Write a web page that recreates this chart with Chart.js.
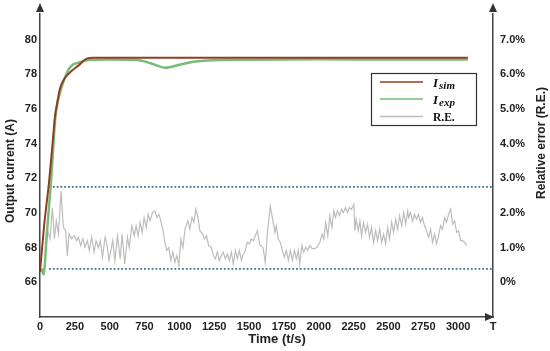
<!DOCTYPE html>
<html lang="en">
<head>
    <meta charset="UTF-8">
    <title>Output current and relative error</title>
    <script src="https://cdn.jsdelivr.net/npm/chart.js"></script>
    <style>
        body {
            margin: 0;
            background-color: #fff;
        }
        #wrap {
            width: 550px;
            height: 351px;
        }
    </style>
</head>
<body>
    <div id="wrap">
        <canvas id="currentChart" width="550" height="351"></canvas>
    </div>

    <script>
        // simulated current (A)
        const simTime = [0, 30, 65, 90, 108, 120, 144, 180, 228, 275, 335, 380, 1000, 2000, 3070];
        const simCurrent = [66.6, 69.3, 71.8, 74.0, 75.6, 76.2, 77.2, 77.8, 78.2, 78.5, 78.9, 78.95, 78.95, 78.95, 78.95];

        // experimental current (A)
        const expTime = [12, 25, 50, 79, 110, 130, 165, 216, 287, 350, 500, 700, 800, 900, 1000, 1100, 1200, 1500, 2000, 2500, 3070];
        const expCurrent = [66.8, 66.45, 68.9, 71.8, 75.5, 76.5, 77.5, 78.4, 78.7, 78.82, 78.85, 78.82, 78.62, 78.38, 78.55, 78.72, 78.8, 78.84, 78.86, 78.85, 78.85];

        // relative error (%)
        const reTime = [36, 55, 72, 89, 103, 117, 132, 151, 168, 184, 196, 208, 227, 247, 263, 275, 292, 307, 323, 340,
            354, 371, 388, 402, 419, 433, 448, 467, 480, 495, 522, 537, 556, 575, 589, 608, 627, 640, 659, 676,
            690, 704, 718, 733, 747, 762, 776, 790, 807, 824, 838, 853, 867, 881, 898, 910, 924, 939, 953, 968,
            982, 996, 1011, 1025, 1041, 1061, 1075, 1090, 1104, 1118, 1133, 1147, 1166, 1181, 1195, 1210, 1229, 1243, 1258, 1272,
            1286, 1301, 1315, 1330, 1344, 1358, 1373, 1387, 1402, 1416, 1430, 1445, 1459, 1473, 1487, 1502, 1516, 1531, 1545, 1559,
            1577, 1600, 1616, 1633, 1652, 1671, 1686, 1695, 1710, 1724, 1739, 1753, 1767, 1782, 1796, 1810, 1825, 1839, 1853, 1863,
            1878, 1892, 1906, 1921, 1935, 1952, 1969, 1988, 2007, 2024, 2036, 2050, 2065, 2079, 2094, 2108, 2120, 2134, 2148, 2163,
            2177, 2192, 2206, 2220, 2235, 2252, 2259, 2268, 2283, 2295, 2307, 2321, 2336, 2350, 2364, 2379, 2393, 2408, 2422, 2437,
            2451, 2465, 2480, 2494, 2508, 2523, 2537, 2552, 2566, 2580, 2595, 2609, 2624, 2638, 2645, 2658, 2672, 2687, 2701, 2715,
            2730, 2744, 2759, 2773, 2788, 2802, 2816, 2831, 2845, 2859, 2874, 2888, 2903, 2917, 2931, 2946, 2960, 2974, 2989, 3003,
            3018, 3032, 3046, 3060];
        const reValue = [1.11, 1.49, 1.26, 2.15, 1.26, 1.77, 1.39, 2.63, 1.58, 1.49, 0.77, 1.40, 1.26, 1.34, 1.20, 1.30, 1.06, 1.26, 1.01, 1.20,
            0.92, 1.30, 0.87, 1.20, 1.00, 1.20, 0.72, 1.30, 1.11, 0.63, 1.20, 0.63, 1.34, 0.68, 1.39, 0.53, 1.30, 1.00, 1.63, 1.34,
            1.63, 1.34, 1.73, 1.44, 1.87, 1.58, 1.96, 1.77, 2.01, 2.06, 1.87, 1.96, 1.77, 1.53, 1.11, 0.92, 1.00, 0.63, 0.87, 0.58,
            0.77, 0.49, 1.25, 1.00, 1.55, 1.77, 1.53, 1.87, 1.73, 2.11, 1.87, 1.49, 1.39, 1.25, 1.34, 1.06, 1.01, 0.77, 0.68, 0.87,
            0.63, 0.77, 0.87, 0.68, 0.82, 0.63, 0.87, 0.53, 0.92, 0.68, 0.92, 0.63, 0.82, 0.92, 1.15, 1.11, 1.25, 1.20, 1.34, 1.49,
            1.08, 1.00, 0.58, 1.49, 2.20, 1.77, 1.44, 1.63, 1.25, 1.15, 0.92, 0.72, 0.92, 0.63, 0.92, 0.63, 0.92, 0.68, 0.92, 0.53,
            1.06, 0.87, 1.01, 0.92, 1.06, 0.97, 0.97, 1.01, 1.15, 1.39, 1.25, 1.73, 1.34, 1.92, 1.58, 2.06, 1.87, 2.06, 1.92, 2.11,
            2.01, 2.16, 2.01, 2.16, 2.11, 2.25, 1.49, 1.82, 1.49, 1.77, 1.34, 1.73, 1.44, 1.68, 1.30, 1.58, 1.15, 1.49, 1.20, 1.53,
            1.15, 1.39, 1.11, 1.58, 1.25, 1.73, 1.44, 1.82, 1.53, 1.92, 1.63, 2.01, 1.68, 2.06, 1.87, 2.01, 1.77, 1.96, 1.82, 1.96,
            1.73, 1.87, 1.63, 1.49, 1.30, 1.53, 1.15, 1.39, 1.11, 1.34, 1.63, 1.53, 1.87, 1.73, 1.96, 2.11, 1.68, 1.77, 1.44, 1.49,
            1.20, 1.20, 1.15, 1.06];

        // dotted error bounds (%)
        const boundTime = [65, 3250];
        const boundUpper = 2.75;
        const boundLower = 0.39;

        const xTicks = [0, 250, 500, 750, 1000, 1250, 1500, 1750, 2000, 2250, 2500, 2750, 3000, 3250];
        const legendNames = [['I', 'sim'], ['I', 'exp'], ['R.E.', '']];

        const textColor = '#222';
        const sansBold = 'bold 11px "Liberation Sans", Arial, sans-serif';
        const simColor = '#8e3f22';
        const expColor = '#79bb79';
        const reColor = '#bdbdbd';
        const boundColor = '#3d7290';

        const toPoints = (xs, ys) => xs.map((x, i) => ({ x: x, y: ys[i] }));

        const decorPlugin = {
            id: 'decor',
            afterDraw(chart) {
                const ctx = chart.ctx;
                const area = chart.chartArea;
                ctx.save();

                // axis arrows
                ctx.fillStyle = '#333';
                [area.left, area.right].forEach(x => {
                    ctx.beginPath();
                    ctx.moveTo(x, 3);
                    ctx.lineTo(x - 4, 12);
                    ctx.lineTo(x + 4, 12);
                    ctx.closePath();
                    ctx.fill();
                });
                ctx.beginPath();
                ctx.moveTo(area.right + 1, area.bottom);
                ctx.lineTo(area.right - 8, area.bottom - 4);
                ctx.lineTo(area.right - 8, area.bottom + 4);
                ctx.closePath();
                ctx.fill();

                // axis titles
                ctx.fillStyle = textColor;
                ctx.textAlign = 'center';
                ctx.textBaseline = 'middle';
                ctx.font = 'bold 13px "Liberation Sans", Arial, sans-serif';
                ctx.fillText('Time (t/s)', 277, 339);

                ctx.font = 'bold 12px "Liberation Sans", Arial, sans-serif';
                ctx.save();
                ctx.translate(11, 171);
                ctx.rotate(-Math.PI / 2);
                ctx.fillText('Output current (A)', 0, 0);
                ctx.restore();

                ctx.save();
                ctx.translate(542, 143);
                ctx.rotate(-Math.PI / 2);
                ctx.fillText('Relative error (R.E.)', 0, 0);
                ctx.restore();

                // legend
                ctx.fillStyle = '#fff';
                ctx.fillRect(371.5, 73.5, 105, 52);
                ctx.strokeStyle = '#333';
                ctx.lineWidth = 1.2;
                ctx.strokeRect(371.5, 73.5, 105, 52);

                const rows = [82, 99, 116.5];
                const colors = [simColor, expColor, reColor];
                ctx.textAlign = 'left';
                ctx.textBaseline = 'alphabetic';
                rows.forEach((y, i) => {
                    ctx.strokeStyle = colors[i];
                    ctx.lineWidth = 1.6;
                    ctx.beginPath();
                    ctx.moveTo(380, y);
                    ctx.lineTo(423, y);
                    ctx.stroke();

                    const [main, sub] = legendNames[i];
                    ctx.fillStyle = '#111';
                    if (sub) {
                        ctx.font = 'bold italic 13px "Liberation Serif", serif';
                        ctx.fillText(main, 433, y + 5);
                        const w = ctx.measureText(main).width;
                        ctx.font = 'bold italic 11px "Liberation Serif", serif';
                        ctx.fillText(sub, 433 + w + 1, y + 7);
                    } else {
                        ctx.font = 'bold 11.5px "Liberation Serif", serif';
                        ctx.fillText(main, 433, y + 4);
                    }
                });

                ctx.restore();
            }
        };

        const ctx = document.getElementById('currentChart').getContext('2d');
        const currentChart = new Chart(ctx, {
            type: 'line',
            data: {
                datasets: [
                    {
                        label: 'I_sim',
                        data: toPoints(simTime, simCurrent),
                        yAxisID: 'y',
                        borderColor: simColor,
                        borderWidth: 2,
                        pointRadius: 0,
                        cubicInterpolationMode: 'monotone'
                    },
                    {
                        label: 'I_exp',
                        data: toPoints(expTime, expCurrent),
                        yAxisID: 'y',
                        borderColor: expColor,
                        borderWidth: 2.5,
                        pointRadius: 0,
                        cubicInterpolationMode: 'monotone'
                    },
                    {
                        label: 'R.E.',
                        data: toPoints(reTime, reValue),
                        yAxisID: 'y1',
                        borderColor: reColor,
                        borderWidth: 1.2,
                        pointRadius: 0
                    },
                    {
                        label: 'upper bound',
                        data: toPoints(boundTime, [boundUpper, boundUpper]),
                        yAxisID: 'y1',
                        borderColor: boundColor,
                        borderWidth: 1.8,
                        borderDash: [1.8, 2],
                        pointRadius: 0
                    },
                    {
                        label: 'lower bound',
                        data: toPoints(boundTime, [boundLower, boundLower]),
                        yAxisID: 'y1',
                        borderColor: boundColor,
                        borderWidth: 1.8,
                        borderDash: [1.8, 2],
                        pointRadius: 0
                    }
                ]
            },
            options: {
                responsive: false,
                animation: false,
                layout: {
                    padding: { top: 11, left: 0, right: 0, bottom: 0 }
                },
                plugins: {
                    legend: { display: false },
                    tooltip: { enabled: false }
                },
                scales: {
                    x: {
                        type: 'linear',
                        min: 0,
                        max: 3250,
                        afterBuildTicks: scale => {
                            scale.ticks = xTicks.map(v => ({ value: v }));
                        },
                        ticks: {
                            autoSkip: false,
                            maxRotation: 0,
                            padding: 3,
                            color: textColor,
                            font: { family: '"Liberation Sans", Arial, sans-serif', size: 11, weight: 'bold' },
                            callback: v => (v === 3250 ? 'T' : v)
                        },
                        grid: { display: false, drawTicks: false },
                        border: { color: '#444', width: 1.5 },
                        afterFit: scale => { scale.height = 34; }
                    },
                    y: {
                        position: 'left',
                        min: 64,
                        max: 81.5,
                        ticks: {
                            stepSize: 2,
                            includeBounds: false,
                            padding: 3,
                            color: textColor,
                            font: { family: '"Liberation Sans", Arial, sans-serif', size: 11, weight: 'bold' },
                            callback: v => (v === 64 ? '' : v)
                        },
                        grid: { display: false, drawTicks: false },
                        border: { color: '#444', width: 1.5 },
                        afterFit: scale => { scale.width = 40; }
                    },
                    y1: {
                        position: 'right',
                        min: -1,
                        max: 7.75,
                        ticks: {
                            stepSize: 1,
                            includeBounds: false,
                            padding: 7,
                            color: textColor,
                            font: { family: '"Liberation Sans", Arial, sans-serif', size: 11, weight: 'bold' },
                            callback: v => (v < 0 ? '' : (v === 0 ? '0%' : v.toFixed(1) + '%'))
                        },
                        grid: { display: false, drawTicks: false },
                        border: { color: '#444', width: 1.5 },
                        afterFit: scale => { scale.width = 57; }
                    }
                }
            },
            plugins: [decorPlugin]
        });
    </script>
</body>
</html>
